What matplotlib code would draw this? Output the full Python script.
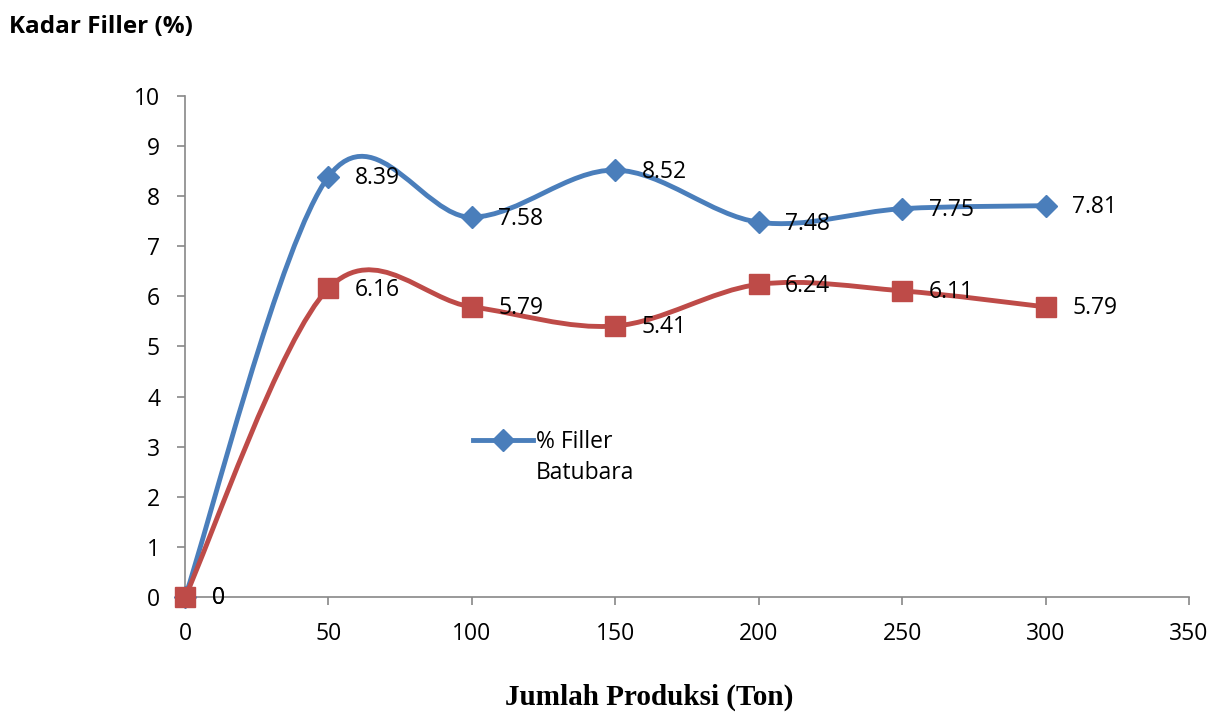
import matplotlib.pyplot as plt
import numpy as np
from matplotlib.path import Path
from matplotlib.patches import PathPatch
from matplotlib.lines import Line2D

produksi = [0, 50, 100, 150, 200, 250, 300]
filler_batubara = [0, 8.39, 7.58, 8.52, 7.48, 7.75, 7.81]
filler_lain = [0, 6.16, 5.79, 5.41, 6.24, 6.11, 5.79]

biru = '#4A7EBB'
merah = '#BE4B48'


def smooth_path(x, y):
    # bezier ala "smoothed line" Excel
    p = np.column_stack([x, y]).astype(float)
    n = len(p)
    verts = [p[0]]
    codes = [Path.MOVETO]
    for i in range(n - 1):
        prev = p[i - 1] if i > 0 else p[i]
        nxt = p[i + 2] if i + 2 < n else p[i + 1]
        c1 = p[i] + (p[i + 1] - prev) / 6
        c2 = p[i + 1] - (nxt - p[i]) / 6
        verts += [c1, c2, p[i + 1]]
        codes += [Path.CURVE4] * 3
    return Path(verts, codes)


fig = plt.figure(figsize=(12.28, 7.13), dpi=100)
ax = fig.add_axes([0.1507, 0.1627, 0.8176, 0.7027])

for y, c, m, ms in [(filler_batubara, biru, 'D', 11), (filler_lain, merah, 's', 14)]:
    ax.add_patch(PathPatch(smooth_path(produksi, y), fill=False, edgecolor=c, lw=3.5, zorder=2))
    ax.plot(produksi, y, ls='none', marker=m, ms=ms, color=c, zorder=3, clip_on=False)
    for xi, yi in zip(produksi, y):
        lbl = '0' if yi == 0 else f'{yi:.2f}'
        ax.annotate(lbl, (xi, yi), xytext=(19, -1), textcoords='offset points',
                    ha='left', va='center', fontsize=16.5, family='Open Sans', zorder=4)

ax.set_xlim(0, 350)
ax.set_ylim(0, 10)
ax.set_xticks(range(0, 351, 50))
ax.set_yticks(range(0, 11))
ax.spines['top'].set_visible(False)
ax.spines['right'].set_visible(False)
for s in ['left', 'bottom']:
    ax.spines[s].set_color('#888888')
    ax.spines[s].set_linewidth(1.2)
ax.tick_params(direction='out', length=6, width=1.2, color='#888888', labelsize=16.5)
ax.tick_params(axis='x', pad=12)
ax.tick_params(axis='y', pad=12)
for t in ax.get_xticklabels() + ax.get_yticklabels():
    t.set_family('Open Sans')

handles = [Line2D([], [], color=biru, lw=3.5, marker='D', ms=11),
           Line2D([], [], color='none')]
ax.legend(handles, ['% Filler', 'Batubara'], loc='upper left', bbox_to_anchor=(0.287, 0.333),
          frameon=False, handlelength=2.6, handletextpad=0.15, labelspacing=0.3,
          borderpad=0, borderaxespad=0, prop={'family': 'Open Sans', 'size': 16.5})

fig.text(0.007, 0.962, 'Kadar Filler (%)', fontsize=17.5, fontweight='bold',
         family='Open Sans', va='center', ha='left')
fig.text(0.529, 0.022, 'Jumlah Produksi (Ton)', fontsize=21, fontweight='bold',
         family='Liberation Serif', va='center', ha='center')

fig.savefig('out.png', dpi=100)
